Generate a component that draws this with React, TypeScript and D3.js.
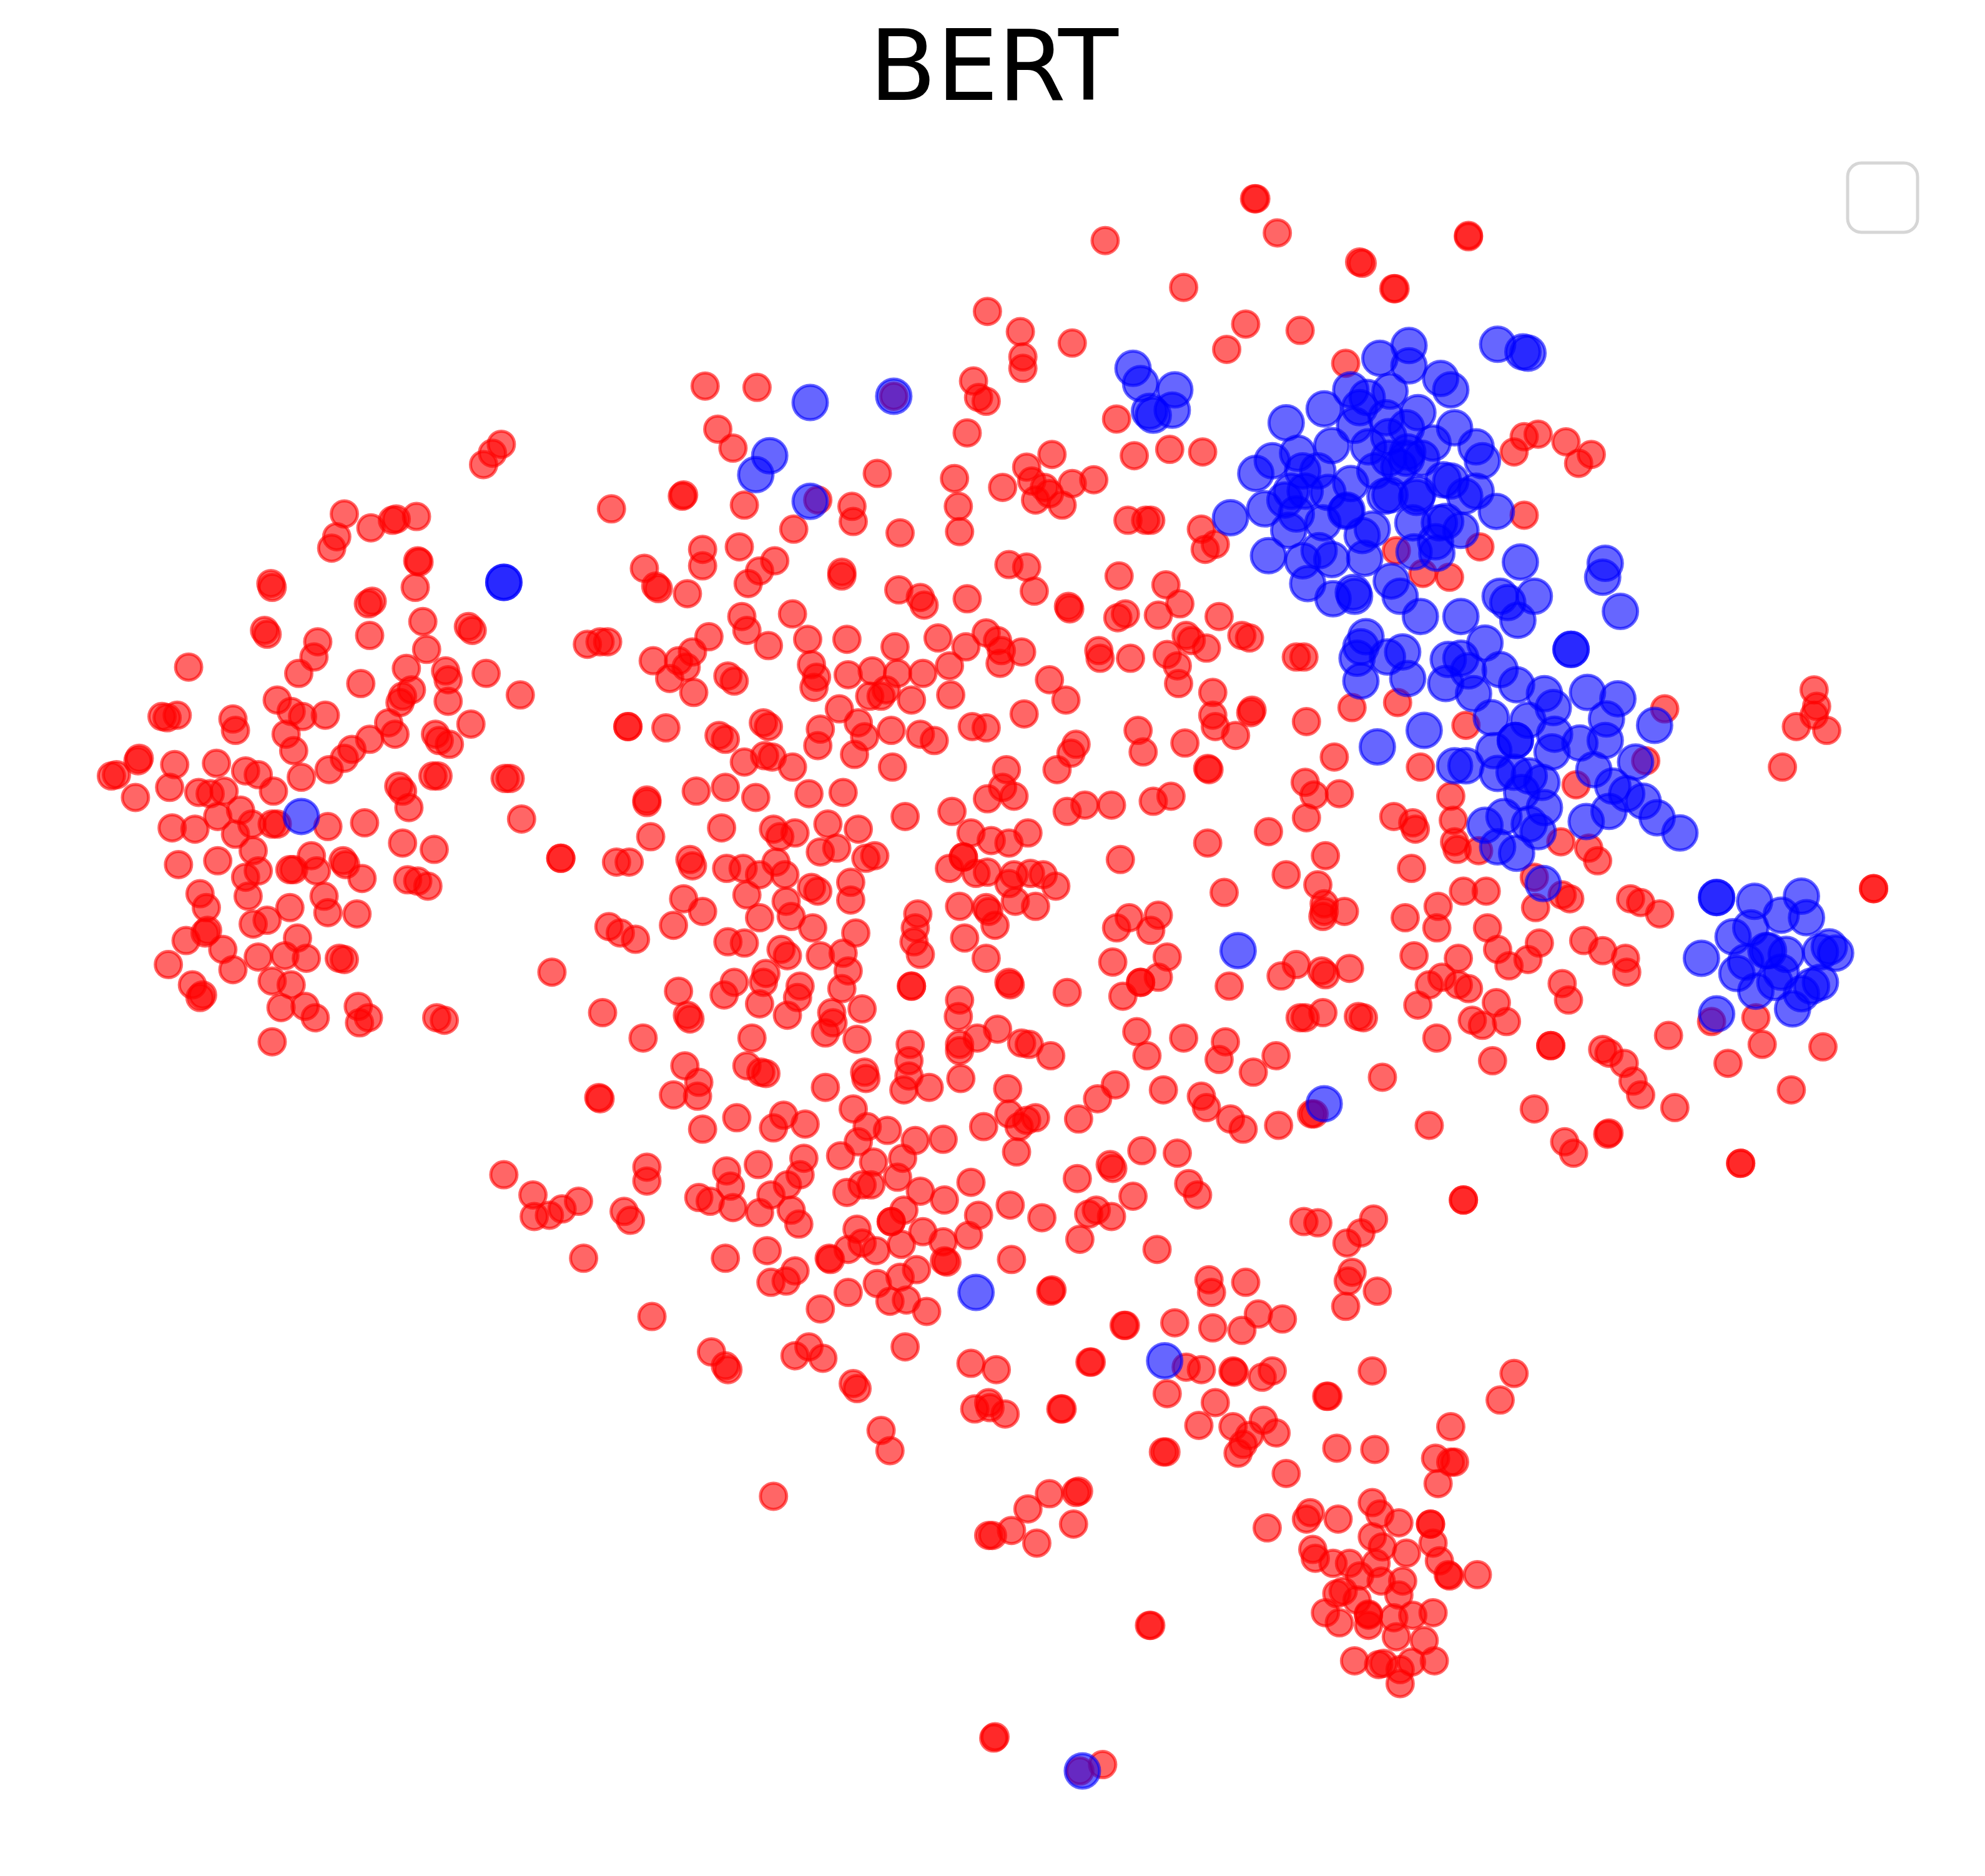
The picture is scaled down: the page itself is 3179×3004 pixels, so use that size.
import React, { useEffect, useRef } from "react";
import * as d3 from "d3";

const chartTitle = "BERT";

const redLeft = [
  [382,367],[389,358],[396,351],[272,406],[262,433],[266,424],[293,417],[310,411],[313,410],[329,408],
  [330,443],[331,444],[328,464],[214,461],[215,464],[291,477],[294,475],[209,498],[211,501],[292,502],
  [334,491],[370,495],[373,498],[251,507],[337,513],[248,519],[149,527],[236,532],[321,528],[352,530],
  [354,537],[285,540],[384,532],[325,545],[318,550],[411,549],[219,553],[316,555],[354,554],[230,562],
  [239,566],[257,565],[128,566],[132,567],[140,565],[184,568],[186,577],[226,580],[232,593],[307,571],
  [312,580],[292,584],[372,572],[344,580],[347,585],[355,588],[278,592],[272,599],[260,608],[238,614],
  [110,599],[109,601],[138,604],[171,603],[194,609],[204,612],[92,612],[88,613],[216,625],[134,622],
  [107,630],[157,626],[166,627],[177,625],[315,621],[318,625],[342,613],[346,613],[399,615],[403,615],
  [172,645],[190,640],[323,638],[136,654],[154,655],[186,659],[199,651],[215,651],[219,651],[259,653],
  [288,650],[412,647],[200,672],[318,666],[343,671],[141,683],[172,680],[194,693],[204,688],[229,687],
  [232,687],[246,676],[271,680],[273,683],[250,688],[286,694],[322,695],[330,696],[338,700],[158,706],
  [196,708],[256,708],[163,717],[229,717],[259,721],[282,722],[211,727],[200,730],[164,735],[162,737],
  [235,741],[147,743],[176,750],[204,756],[225,755],[242,757],[268,757],[272,758],[133,762],[184,766],
  [215,775],[230,778],[152,778],[160,786],[158,788],[241,795],[222,796],[249,804],[283,795],[291,804],
  [284,808],[345,804],[351,806],[215,823],
];

const redCentre = [
  [557,305],[598,306],[567,339],[579,354],[483,402],[539,392],[540,391],[588,399],[673,400],[674,412],
  [693,374],[754,378],[757,400],[758,420],[711,421],[769,301],[773,314],[779,317],[764,342],[780,246],
  [806,262],[808,282],[808,291],[847,271],[873,190],[882,331],[896,360],[924,355],[950,357],[831,359],
  [811,369],[792,385],[815,380],[825,385],[818,395],[839,399],[847,382],[864,379],[829,390],[891,411],
  [905,411],[909,411],[949,418],[952,434],[960,430],[584,432],[555,434],[555,447],[612,443],[600,451],
  [591,461],[509,449],[518,463],[520,465],[543,469],[665,452],[665,455],[710,466],[727,472],[730,478],
  [764,473],[797,446],[811,448],[817,467],[844,479],[845,481],[884,455],[921,462],[932,477],[915,486],
  [883,488],[889,485],[963,487],[937,502],[941,506],[981,502],[987,504],[626,485],[586,487],[590,498],
  [560,503],[607,510],[669,505],[707,511],[741,504],[779,500],[788,506],[791,514],[807,515],[763,511],
  [750,526],[790,524],[464,509],[474,507],[480,507],[516,522],[529,536],[536,522],[542,527],[547,515],
  [548,547],[575,534],[580,538],[641,525],[645,535],[643,543],[670,533],[689,530],[709,532],[729,532],
  [663,560],[687,550],[696,550],[700,545],[720,553],[751,549],[829,537],[842,553],[868,514],[869,520],
  [893,520],[922,517],[930,526],[931,540],[953,512],[1024,519],[1030,519],[958,547],[958,565],[960,574],
  [988,563],[976,581],[989,561],[1032,570],[496,574],[496,574],[526,575],[568,581],[573,584],[603,571],
  [607,574],[648,576],[678,571],[704,577],[727,580],[738,585],[768,574],[779,575],[809,564],[899,577],
  [903,594],[936,587],[850,588],[846,595],[835,608],[604,597],[610,598],[626,606],[588,602],[705,606],
  [646,589],[675,596],[683,582],[627,418],[638,505],[795,608],[792,622],[801,629],[780,631],[954,607],
  [955,608],[1054,598],[511,632],[511,634],[550,625],[573,622],[597,630],[639,627],[666,626],[752,641],
  [843,641],[857,636],[878,636],[911,633],[925,629],[1031,618],[1038,628],[1058,627],[1032,646],[1002,657],
  [954,666],[570,654],[514,661],[611,655],[616,661],[628,658],[654,651],[678,655],[715,645],[767,658],
  [783,664],[797,666],[812,658],[648,673],[661,670],[684,678],[691,676],[761,677],[761,677],[750,686],
  [771,690],[780,689],[885,679],[443,678],[443,678],[487,681],[497,681],[545,679],[547,684],[574,686],
  [587,686],[600,691],[613,681],[620,691],[641,701],[646,704],[590,707],[672,697],[672,711],[797,698],
  [801,691],[814,690],[824,691],[834,700],[779,717],[781,720],[802,712],[818,716],[758,716],[1016,691],
  [1047,676],[1041,699],[1115,686],[967,705],[540,710],[555,720],[600,725],[621,712],[625,724],[642,733],
  [676,737],[725,722],[723,733],[722,744],[727,754],[762,741],[786,731],[892,725],[882,733],[915,723],
  [909,735],[922,756],[1046,714],[1046,720],[1045,724],[1062,720],[481,732],[490,737],[502,742],[532,731],
  [575,744],[588,745],[617,750],[622,755],[648,755],[666,753],[670,767],[779,757],[879,760],[1024,762],
  [1012,771],[436,768],[580,776],[605,769],[603,776],[632,779],[630,788],[665,781],[720,779],[720,779],
  [797,776],[798,778],[901,776],[901,776],[915,772],[887,787],[971,779],[1044,767],[1047,770],[1066,765],
  [536,783],[572,786],[600,793],[681,797],[758,790],[757,803],[843,784],[476,800],[543,802],[545,805],
  [657,800],[658,808],[622,802],[652,816],[898,815],[1031,804],[1027,804],[1045,800],[1073,803],[1077,804],
  [508,820],[594,820],[677,821],[719,825],[718,838],[758,825],[758,830],[772,820],[788,813],[807,824],
  [813,825],[830,834],[906,834],[935,820],[968,823],[963,837],[1008,834],[990,847],[541,842],[590,842],
  [601,847],[605,848],[683,847],[684,852],[734,859],[714,861],[718,850],[759,852],[796,860],[881,857],
  [919,861],[949,866],[532,865],[552,855],[551,866],[652,859],[473,867],[474,868],[555,892],[611,891],
  [619,881],[636,888],[582,883],[674,876],[685,890],[701,893],[678,902],[777,890],[797,880],[811,885],
  [818,883],[805,890],[852,884],[867,868],[953,875],[972,884],[982,892],[1010,889],[1036,880],[1092,851],
  [1129,889],
];

const redLower = [
  [511,922],[398,928],[511,933],[574,925],[599,920],[635,915],[664,913],[690,918],[713,915],[709,930],
  [745,900],[723,901],[803,910],[877,920],[879,923],[902,909],[930,911],[577,937],[622,936],[632,928],
  [609,944],[552,946],[561,949],[579,954],[600,958],[625,956],[669,942],[681,936],[688,936],[727,941],
  [746,948],[767,934],[851,931],[939,935],[946,944],[895,945],[421,944],[457,949],[422,961],[434,960],
  [444,955],[493,957],[498,964],[631,967],[704,965],[704,965],[714,956],[773,960],[798,952],[823,962],
  [860,959],[866,956],[878,961],[1030,965],[1041,966],[1085,963],[677,971],[729,973],[765,976],[1075,974],
  [1064,982],[681,982],[692,988],[712,983],[745,981],[670,987],[655,994],[656,995],[606,988],[573,994],
  [461,994],[853,979],[746,996],[748,997],[724,1003],[711,1009],[799,995],[914,987],[628,1004],[609,1013],
  [621,1012],[693,1014],[670,1021],[703,1028],[716,1027],[732,1036],[648,1034],[515,1040],[830,1020],[831,1019],
  [955,1011],[984,1013],[957,1021],[1068,1005],[1065,1012],[1088,1020],[1063,1032],[994,1038],[1013,1042],[888,1047],
  [889,1047],[928,1045],[958,1049],[981,1051],[639,1064],[628,1071],[650,1073],[562,1068],[573,1079],[575,1082],
  [715,1064],[861,1076],[862,1076],[767,1077],[787,1082],[937,1080],[949,1082],[974,1083],[975,1084],[1005,1083],
  [997,1088],[1084,1083],[1196,1085],[674,1093],[677,1097],[922,1101],[1048,1103],[1049,1103],[1185,1106],[960,1108],
  [770,1113],[781,1108],[782,1112],[794,1117],[838,1113],[839,1113],[947,1126],[974,1127],[998,1122],[1008,1132],
  [987,1134],[1146,1127],[696,1130],[703,1146],[982,1141],[978,1148],[919,1147],[921,1147],[1056,1144],[1086,1145],
  [1134,1152],[1146,1155],[1149,1155],[1016,1164],[1136,1172],[611,1182],[829,1180],[850,1179],[852,1178],[848,1204],
  [812,1192],[781,1213],[784,1213],[799,1209],[819,1219],[1001,1207],[908,1284],[909,1284],[785,1373],[786,1372],
  [871,1394],[853,1399],
];

const redBottom = [
  [1032,1200],[1035,1195],[1057,1200],[1084,1187],[1090,1196],[1105,1203],[1130,1204],[1130,1204],[1084,1214],[1092,1222],
  [1111,1227],[1132,1219],[1137,1233],[1037,1224],[1039,1231],[1053,1235],[1066,1235],[1087,1235],[1074,1245],[1091,1249],
  [1108,1249],[1105,1260],[1144,1244],[1145,1245],[1167,1244],[1056,1259],[1061,1257],[1072,1264],[1081,1275],[1081,1276],
  [1081,1284],[1047,1274],[1058,1282],[1101,1278],[1116,1276],[1132,1274],[1103,1293],[1125,1296],[1070,1312],[1089,1315],
  [1093,1314],[1106,1319],[1115,1313],[1133,1312],[1106,1330],
];

const redRight = [
  [991,157],[992,157],[1009,184],[1160,187],[1160,186],[1074,207],[1076,208],[1101,228],[1102,228],[935,227],
  [984,256],[969,276],[1027,261],[1063,287],[1215,343],[1204,345],[1237,349],[1196,357],[1257,359],[1247,366],
  [1204,407],[1169,432],[1103,435],[1124,453],[1145,456],[1104,555],[1068,559],[1158,573],[1122,606],[706,313],
  [646,395],[1315,560],[1433,545],[1435,558],[1433,565],[1419,574],[1443,577],[1408,606],[1300,601],[1146,629],
  [1101,645],[1116,650],[1118,655],[1148,648],[1149,665],[1151,671],[1168,672],[1233,665],[1255,670],[1262,680],
  [1245,620],[1156,704],[1174,704],[1136,716],[1213,717],[1234,707],[1240,710],[1288,710],[1296,713],[1311,722],
  [1110,725],[1135,733],[1175,733],[1251,743],[1216,745],[1183,750],[1266,751],[1207,758],[1152,757],[1117,755],
  [1192,763],[1285,768],[1284,757],[1234,777],[1139,772],[1129,778],[1152,778],[1160,781],[1239,790],[1120,794],
  [1182,792],[1163,806],[1171,810],[1190,807],[1135,820],[1318,818],[1352,807],[1387,804],[1392,825],[1440,827],
  [1365,840],[1225,826],[1225,826],[1179,838],[1266,829],[1271,832],[1283,840],[1290,854],[1296,865],[1323,875],
  [1212,876],[1415,861],[1236,902],[1243,911],[1270,896],[1271,895],[1375,919],[1375,919],[1156,948],[1156,948],
  [1480,702],[1480,702],[1212,693],[1038,880],
];

const blueOutliers = [
  [640,318],[706,313],[608,360],[597,375],[640,396],[398,460],[398,460],[238,645],[895,291],[901,303],
  [928,308],[908,325],[926,324],[911,328],[1183,272],[1203,278],[1207,279],[1268,445],[1266,456],[1280,483],
  [978,751],[1046,872],[771,1021],[920,1075],[855,1399],[1241,513],[1241,513],[1219,698],
];

const blueUpper = [
  [1113,273],[1090,283],[1113,289],[1138,299],[1146,308],[1067,308],[1080,314],[1098,309],[1074,322],[1046,323],
  [1016,334],[1120,326],[1070,336],[1095,330],[1111,338],[1149,338],[1097,345],[1052,352],[1132,350],[1166,353],
  [1171,364],[1081,353],[1112,357],[1097,362],[1005,364],[1025,358],[992,374],[1029,372],[1041,372],[1086,372],
  [1111,362],[1123,362],[1105,369],[1067,382],[1140,379],[1146,380],[1166,388],[1157,392],[1049,389],[1031,388],
  [1020,388],[1015,395],[1098,391],[1094,392],[1119,393],[1120,390],[999,402],[1182,404],[1024,406],[1045,413],
  [1063,404],[1064,403],[972,409],[1018,419],[1084,418],[1076,423],[1116,413],[1137,413],[1142,412],[1154,419],
  [1134,428],[1135,437],[1117,436],[1002,439],[1042,435],[1029,443],[1052,442],[1078,441],[1099,459],[1106,471],
  [1033,461],[1053,473],[1069,468],[1070,471],[1122,487],[1154,487],[1201,444],[1185,471],[1191,476],[1212,471],
  [1199,490],
];

const blueMiddle = [
  [1079,503],[1075,511],[1072,520],[1096,519],[1108,515],[1075,538],[1112,536],[1144,521],[1154,520],[1160,530],
  [1173,508],[1185,529],[1198,541],[1142,540],[1164,548],[1220,548],[1227,559],[1254,547],[1278,552],[1269,568],
  [1268,585],[1248,587],[1228,580],[1226,594],[1207,569],[1178,567],[1197,585],[1197,585],[1180,593],[1307,573],
  [1292,602],[1259,608],[1274,621],[1285,627],[1298,633],[1309,646],[1327,658],[1271,641],[1253,649],[1183,611],
  [1196,610],[1208,613],[1218,618],[1202,626],[1220,638],[1188,645],[1173,652],[1208,651],[1215,657],[1183,669],
  [1198,674],[1149,605],[1158,605],[1125,577],[1088,590],
];

const blueLower = [
  [1356,709],[1356,709],[1386,712],[1423,708],[1407,723],[1427,725],[1383,733],[1369,740],[1344,757],[1397,751],
  [1395,751],[1411,754],[1438,752],[1445,748],[1450,753],[1379,760],[1372,769],[1387,783],[1407,768],[1402,776],
  [1423,785],[1431,779],[1438,776],[1416,797],[1356,801],
];

const redPoints = [...redLeft, ...redCentre, ...redLower, ...redBottom, ...redRight];
const bluePoints = [...blueOutliers, ...blueUpper, ...blueMiddle, ...blueLower];

const WIDTH = 3179;
const HEIGHT = 3004;

export default function App() {
  const ref = useRef<SVGSVGElement | null>(null);

  useEffect(() => {
    const svg = d3.select(ref.current);
    svg.selectAll("*").remove();

    const x = d3.scaleLinear().domain([0, 1568]).range([0, WIDTH]);
    const y = d3.scaleLinear().domain([0, 1482]).range([0, HEIGHT]);

    const drawSeries = (data: number[][], color: string, r: number) => {
      svg.append("g")
        .selectAll("circle")
        .data(data)
        .join("circle")
        .attr("cx", d => x(d[0]))
        .attr("cy", d => y(d[1]))
        .attr("r", r)
        .attr("fill", color)
        .attr("fill-opacity", 0.6)
        .attr("stroke", color)
        .attr("stroke-opacity", 0.6)
        .attr("stroke-width", 5);
    };

    drawSeries(redPoints, "#ff0000", 21);
    drawSeries(bluePoints, "#0000ff", 27.5);

    // matplotlib tightens the R-T pair, hence the dx list
    svg.append("text")
      .attr("x", 1392)
      .attr("y", 160)
      .attr("dx", "0 0 -1 -12")
      .attr("font-family", "DejaVu Sans")
      .attr("font-size", 157)
      .attr("fill", "#000")
      .style("font-kerning", "none")
      .text(chartTitle);

    // empty legend frame
    svg.append("rect")
      .attr("x", 2959)
      .attr("y", 261)
      .attr("width", 112)
      .attr("height", 111)
      .attr("rx", 22)
      .attr("fill", "#fff")
      .attr("stroke", "#d6d6d6")
      .attr("stroke-width", 5);
  }, []);

  return (
    <svg
      ref={ref}
      width={WIDTH}
      height={HEIGHT}
      style={{ position: "absolute", left: 0, top: 0, background: "#fff" }}
    />
  );
}
